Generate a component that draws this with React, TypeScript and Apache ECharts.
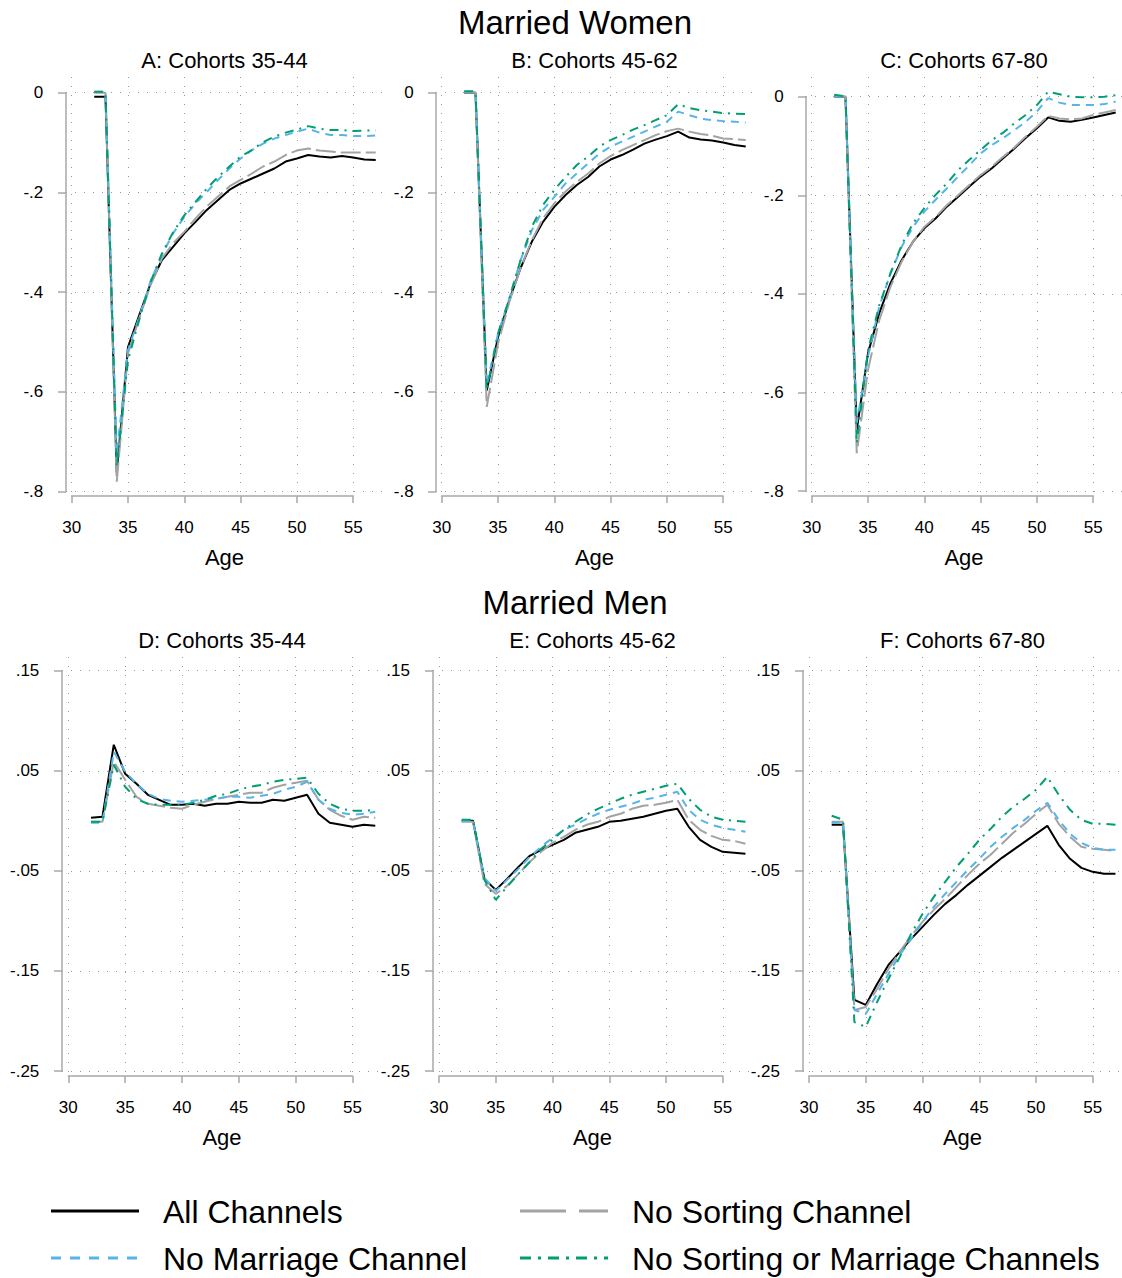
import React, { useEffect, useRef } from "react";
import * as echarts from "echarts";

const FONT = "'Liberation Sans', Arial, Helvetica, sans-serif";

// Age grid shared by all panels
const ages = [32, 33, 34, 35, 36, 37, 38, 39, 40, 41, 42, 43, 44, 45, 46, 47, 48, 49, 50, 51, 52, 53, 54, 55, 56, 57];

// Married women, cohorts 35-44
const womenA_all = [-0.008, -0.008, -0.762, -0.51, -0.446, -0.383, -0.336, -0.309, -0.282, -0.259, -0.235, -0.215, -0.195, -0.182, -0.172, -0.162, -0.152, -0.138, -0.132, -0.125, -0.128, -0.13, -0.127, -0.13, -0.134, -0.135];
const womenA_noSorting = [0, 0, -0.78, -0.523, -0.452, -0.386, -0.333, -0.302, -0.279, -0.252, -0.228, -0.208, -0.188, -0.175, -0.162, -0.148, -0.138, -0.125, -0.116, -0.112, -0.116, -0.118, -0.12, -0.12, -0.12, -0.12];
const womenA_noMarriage = [0.002, 0.002, -0.725, -0.516, -0.45, -0.378, -0.326, -0.282, -0.249, -0.222, -0.199, -0.175, -0.152, -0.132, -0.115, -0.102, -0.092, -0.085, -0.078, -0.072, -0.08, -0.085, -0.085, -0.087, -0.087, -0.086];
const womenA_noBoth = [0.002, 0.002, -0.75, -0.536, -0.455, -0.38, -0.323, -0.28, -0.246, -0.219, -0.192, -0.169, -0.148, -0.128, -0.115, -0.099, -0.088, -0.08, -0.074, -0.067, -0.072, -0.075, -0.075, -0.077, -0.076, -0.076];

// Married women, cohorts 45-62
const womenB_all = [0, 0, -0.597, -0.49, -0.416, -0.352, -0.299, -0.259, -0.229, -0.205, -0.185, -0.169, -0.148, -0.134, -0.125, -0.114, -0.102, -0.094, -0.087, -0.078, -0.09, -0.094, -0.096, -0.1, -0.105, -0.108];
const womenB_noSorting = [0, 0, -0.63, -0.503, -0.42, -0.352, -0.296, -0.252, -0.222, -0.198, -0.179, -0.162, -0.142, -0.127, -0.115, -0.105, -0.095, -0.085, -0.077, -0.072, -0.078, -0.083, -0.086, -0.092, -0.093, -0.095];
const womenB_noMarriage = [0.002, 0.002, -0.587, -0.483, -0.413, -0.336, -0.276, -0.235, -0.209, -0.182, -0.162, -0.142, -0.122, -0.108, -0.098, -0.088, -0.078, -0.068, -0.058, -0.038, -0.045, -0.052, -0.055, -0.057, -0.058, -0.06];
const womenB_noBoth = [0.003, 0.003, -0.597, -0.483, -0.413, -0.336, -0.269, -0.225, -0.195, -0.169, -0.145, -0.128, -0.108, -0.095, -0.085, -0.074, -0.065, -0.055, -0.045, -0.023, -0.031, -0.035, -0.038, -0.041, -0.042, -0.043];

// Married women, cohorts 67-80
const womenC_all = [0, 0, -0.676, -0.52, -0.439, -0.378, -0.331, -0.294, -0.267, -0.247, -0.223, -0.203, -0.182, -0.162, -0.145, -0.125, -0.105, -0.084, -0.064, -0.042, -0.049, -0.051, -0.047, -0.042, -0.037, -0.032];
const womenC_noSorting = [0, 0, -0.723, -0.554, -0.453, -0.385, -0.334, -0.294, -0.264, -0.244, -0.22, -0.2, -0.179, -0.159, -0.142, -0.122, -0.103, -0.081, -0.061, -0.039, -0.044, -0.046, -0.044, -0.037, -0.032, -0.027];
const womenC_noMarriage = [0.001, 0, -0.662, -0.527, -0.426, -0.358, -0.304, -0.264, -0.233, -0.209, -0.186, -0.162, -0.139, -0.115, -0.098, -0.084, -0.068, -0.051, -0.03, -0.003, -0.012, -0.017, -0.017, -0.017, -0.015, -0.01];
const womenC_noBoth = [0.004, 0.001, -0.703, -0.514, -0.423, -0.358, -0.3, -0.257, -0.226, -0.199, -0.176, -0.149, -0.128, -0.108, -0.088, -0.073, -0.054, -0.037, -0.017, 0.01, 0.005, 0, -0.001, -0.001, 0, 0.003];

// Married men, cohorts 35-44
const menD_all = [0.003, 0.004, 0.076, 0.047, 0.037, 0.026, 0.021, 0.016, 0.016, 0.017, 0.015, 0.017, 0.017, 0.019, 0.018, 0.018, 0.021, 0.02, 0.023, 0.026, 0.007, -0.002, -0.004, -0.006, -0.004, -0.005];
const menD_noSorting = [-0.001, -0.001, 0.059, 0.041, 0.024, 0.017, 0.015, 0.013, 0.012, 0.016, 0.019, 0.022, 0.024, 0.026, 0.028, 0.028, 0.033, 0.036, 0.038, 0.04, 0.021, 0.011, 0.005, 0.001, 0.004, 0.003];
const menD_noMarriage = [-0.002, -0.002, 0.069, 0.049, 0.037, 0.027, 0.022, 0.02, 0.019, 0.02, 0.021, 0.022, 0.024, 0.024, 0.023, 0.025, 0.027, 0.031, 0.034, 0.039, 0.021, 0.012, 0.008, 0.006, 0.007, 0.009];
const menD_noBoth = [-0.001, -0.001, 0.056, 0.034, 0.022, 0.017, 0.016, 0.016, 0.016, 0.018, 0.021, 0.025, 0.027, 0.031, 0.034, 0.036, 0.039, 0.041, 0.042, 0.043, 0.027, 0.017, 0.012, 0.01, 0.01, 0.011];

// Married men, cohorts 45-62
const menE_all = [0, 0, -0.058, -0.069, -0.058, -0.046, -0.035, -0.029, -0.024, -0.019, -0.012, -0.009, -0.006, -0.001, 0, 0.002, 0.004, 0.007, 0.01, 0.012, -0.006, -0.019, -0.026, -0.031, -0.032, -0.033];
const menE_noSorting = [-0.001, -0.001, -0.063, -0.073, -0.065, -0.053, -0.041, -0.031, -0.022, -0.016, -0.009, -0.004, -0.001, 0.004, 0.007, 0.012, 0.015, 0.016, 0.018, 0.021, 0.001, -0.009, -0.015, -0.019, -0.02, -0.023];
const menE_noMarriage = [0, 0, -0.057, -0.07, -0.059, -0.048, -0.036, -0.026, -0.017, -0.009, -0.004, 0.002, 0.007, 0.011, 0.014, 0.017, 0.021, 0.023, 0.026, 0.029, 0.011, 0.001, -0.004, -0.007, -0.009, -0.011];
const menE_noBoth = [0.001, 0.001, -0.059, -0.079, -0.066, -0.053, -0.041, -0.028, -0.019, -0.009, -0.001, 0.006, 0.012, 0.017, 0.022, 0.026, 0.029, 0.032, 0.035, 0.037, 0.022, 0.011, 0.004, 0.001, 0, -0.001];

// Married men, cohorts 67-80
const menF_all = [-0.004, -0.004, -0.179, -0.184, -0.163, -0.144, -0.131, -0.118, -0.106, -0.094, -0.083, -0.074, -0.064, -0.055, -0.046, -0.037, -0.029, -0.021, -0.013, -0.005, -0.024, -0.038, -0.047, -0.051, -0.053, -0.053];
const menF_noSorting = [-0.001, -0.001, -0.189, -0.186, -0.168, -0.148, -0.131, -0.115, -0.101, -0.089, -0.078, -0.066, -0.054, -0.043, -0.034, -0.023, -0.012, -0.003, 0.007, 0.016, -0.003, -0.016, -0.026, -0.028, -0.029, -0.03];
const menF_noMarriage = [-0.002, -0.002, -0.189, -0.193, -0.173, -0.153, -0.134, -0.118, -0.101, -0.086, -0.073, -0.061, -0.049, -0.038, -0.026, -0.016, -0.007, 0.001, 0.01, 0.018, 0.001, -0.013, -0.022, -0.027, -0.029, -0.029];
const menF_noBoth = [0.005, 0.001, -0.201, -0.206, -0.181, -0.158, -0.136, -0.113, -0.093, -0.076, -0.061, -0.046, -0.033, -0.019, -0.008, 0.004, 0.014, 0.022, 0.031, 0.044, 0.026, 0.011, 0.001, -0.003, -0.003, -0.004];

const seriesNames = ["All Channels", "No Sorting Channel", "No Marriage Channel", "No Sorting or Marriage Channels"];

// Line styles of the four scenarios
const styles = [
  { color: "#000000", type: "solid" as any, width: 2 },
  { color: "#a3a3a3", type: [20, 5], width: 2 },
  { color: "#56b4e9", type: [8, 6], width: 2 },
  { color: "#009e73", type: [9, 6, 2, 6], width: 2 },
];

const womenTicks = { min: -0.8, max: 0, step: 0.2 };
const menTicks = { min: -0.25, max: 0.15, step: 0.1 };

type Panel = {
  title: string;
  data: number[][];
  ticks: { min: number; max: number; step: number };
  axisX: number; // x of the y-axis line
  x30: number; // pixel of age 30
  pxYear: number;
  yTopPx: number; // pixel of top tick
  yBotPx: number; // pixel of bottom tick
  regionLeft: number;
  regionRight: number;
  regionTop: number;
  regionBottom: number;
  xAxisY: number;
};

const panels: Panel[] = [
  { title: "A: Cohorts 35-44", data: [womenA_all, womenA_noSorting, womenA_noMarriage, womenA_noBoth], ticks: womenTicks,
    axisX: 57.3, x30: 71.7, pxYear: 11.26, yTopPx: 92.7, yBotPx: 491.7, regionLeft: 66, regionRight: 383, regionTop: 77, regionBottom: 496, xAxisY: 506 },
  { title: "B: Cohorts 45-62", data: [womenB_all, womenB_noSorting, womenB_noMarriage, womenB_noBoth], ticks: womenTicks,
    axisX: 427.7, x30: 441.7, pxYear: 11.26, yTopPx: 92.7, yBotPx: 491.7, regionLeft: 436, regionRight: 753, regionTop: 77, regionBottom: 496, xAxisY: 506 },
  { title: "C: Cohorts 67-80", data: [womenC_all, womenC_noSorting, womenC_noMarriage, womenC_noBoth], ticks: womenTicks,
    axisX: 797.7, x30: 811.7, pxYear: 11.26, yTopPx: 96.7, yBotPx: 491.2, regionLeft: 806, regionRight: 1122, regionTop: 77, regionBottom: 496, xAxisY: 506 },
  { title: "D: Cohorts 35-44", data: [menD_all, menD_noSorting, menD_noMarriage, menD_noBoth], ticks: menTicks,
    axisX: 53.3, x30: 68.3, pxYear: 11.37, yTopPx: 670.7, yBotPx: 1071, regionLeft: 62, regionRight: 382, regionTop: 657, regionBottom: 1076, xAxisY: 1086 },
  { title: "E: Cohorts 45-62", data: [menE_all, menE_noSorting, menE_noMarriage, menE_noBoth], ticks: menTicks,
    axisX: 424, x30: 439, pxYear: 11.35, yTopPx: 670.7, yBotPx: 1071, regionLeft: 433, regionRight: 752, regionTop: 657, regionBottom: 1076, xAxisY: 1086 },
  { title: "F: Cohorts 67-80", data: [menF_all, menF_noSorting, menF_noMarriage, menF_noBoth], ticks: menTicks,
    axisX: 794, x30: 809, pxYear: 11.35, yTopPx: 670.7, yBotPx: 1071, regionLeft: 803, regionRight: 1122, regionTop: 657, regionBottom: 1076, xAxisY: 1086 },
];

const AXIS_COLOR = "#a8a8a8";
const GRID_DOT = { color: "#9a9a9a", width: 1, type: [1, 8] as any };

function fmtTick(v: number): string {
  const r = Number(v.toFixed(3));
  if (r === 0) return "0";
  return String(r).replace("0.", ".");
}

function buildOption() {
  const grid: any[] = [];
  const xAxis: any[] = [];
  const yAxis: any[] = [];
  const series: any[] = [];
  const graphic: any[] = [];

  panels.forEach((p) => {
    const base = grid.length;
    const pxUnit = (p.yBotPx - p.yTopPx) / (p.ticks.max - p.ticks.min);
    const width = p.regionRight - p.regionLeft;
    const height = p.regionBottom - p.regionTop;

    // data grid covering the whole plot region
    grid.push({ left: p.regionLeft, top: p.regionTop, width, height, containLabel: false });
    xAxis.push({
      gridIndex: base, type: "value",
      min: 30 - (p.x30 - p.regionLeft) / p.pxYear,
      max: 30 + (p.regionRight - p.x30) / p.pxYear,
      show: false,
    });
    yAxis.push({
      gridIndex: base, type: "value",
      min: p.ticks.min - (p.regionBottom - p.yBotPx) / pxUnit,
      max: p.ticks.max + (p.yTopPx - p.regionTop) / pxUnit,
      show: false,
    });

    // y axis with horizontal gridlines
    grid.push({ left: p.regionLeft, top: p.yTopPx, width, height: p.yBotPx - p.yTopPx, containLabel: false });
    xAxis.push({ gridIndex: base + 1, type: "value", min: 0, max: 1, show: false });
    yAxis.push({
      gridIndex: base + 1, type: "value", min: p.ticks.min, max: p.ticks.max, interval: p.ticks.step,
      position: "left", offset: p.regionLeft - p.axisX,
      axisLine: { show: true, lineStyle: { color: AXIS_COLOR, width: 1.5 } },
      axisTick: { show: true, length: 8, lineStyle: { color: AXIS_COLOR, width: 1.5 } },
      axisLabel: { show: true, margin: 14, color: "#000", fontSize: 17, fontFamily: FONT, formatter: fmtTick },
      splitLine: { show: true, lineStyle: GRID_DOT },
    });

    // x axis (ages 30-55) with vertical gridlines
    grid.push({ left: p.x30, top: p.regionTop, width: 25 * p.pxYear, height, containLabel: false });
    xAxis.push({
      gridIndex: base + 2, type: "value", min: 30, max: 55, interval: 5,
      position: "bottom", offset: p.xAxisY - p.regionBottom,
      axisLine: { show: true, lineStyle: { color: AXIS_COLOR, width: 1.5 } },
      axisTick: { show: true, length: 7, lineStyle: { color: AXIS_COLOR, width: 1.5 } },
      axisLabel: { show: true, margin: 13, color: "#000", fontSize: 17, fontFamily: FONT },
      splitLine: { show: true, lineStyle: GRID_DOT },
    });
    yAxis.push({ gridIndex: base + 2, type: "value", min: 0, max: 1, show: false });

    p.data.forEach((vals, k) => {
      series.push({
        type: "line",
        name: seriesNames[k],
        xAxisIndex: base,
        yAxisIndex: base,
        data: ages.map((a, j) => [a, vals[j]]),
        symbol: "none",
        lineStyle: styles[k],
        z: 3 + k,
        clip: false,
      });
    });

    const cx = (p.regionLeft + p.regionRight) / 2;
    graphic.push({
      type: "text", x: cx, y: p.regionTop - 17,
      style: { text: p.title, fontSize: 22, fontFamily: FONT, fill: "#000", align: "center", verticalAlign: "middle" },
    });
    graphic.push({
      type: "text", x: cx, y: p.xAxisY + 51,
      style: { text: "Age", fontSize: 22, fontFamily: FONT, fill: "#000", align: "center", verticalAlign: "middle" },
    });
  });

  graphic.push({
    type: "text", x: 575, y: 22,
    style: { text: "Married Women", fontSize: 33, fontFamily: FONT, fill: "#000", align: "center", verticalAlign: "middle" },
  });
  graphic.push({
    type: "text", x: 575, y: 602,
    style: { text: "Married Men", fontSize: 33, fontFamily: FONT, fill: "#000", align: "center", verticalAlign: "middle" },
  });

  // legend keys
  const legendItems = [
    { name: seriesNames[0], x: 51, y: 1211, dash: null as any, color: styles[0].color },
    { name: seriesNames[1], x: 520, y: 1211, dash: [46, 13], color: styles[1].color },
    { name: seriesNames[2], x: 51, y: 1258, dash: [10, 9], color: styles[2].color },
    { name: seriesNames[3], x: 520, y: 1258, dash: [11, 7, 3, 7], color: styles[3].color },
  ];
  legendItems.forEach((it) => {
    graphic.push({
      type: "line",
      shape: { x1: it.x, y1: it.y, x2: it.x + 88, y2: it.y },
      style: { stroke: it.color, lineWidth: 3, lineDash: it.dash || undefined },
    });
    graphic.push({
      type: "text", x: it.x + 112, y: it.y + 1,
      style: { text: it.name, fontSize: 32, fontFamily: FONT, fill: "#000", align: "left", verticalAlign: "middle" },
    });
  });

  return {
    animation: false,
    backgroundColor: "#ffffff",
    grid, xAxis, yAxis, series, graphic,
  };
}

export default function App() {
  const ref = useRef<HTMLDivElement>(null);
  useEffect(() => {
    document.body.style.margin = "0";
    if (!ref.current) return;
    const chart = echarts.init(ref.current, undefined, { renderer: "svg" });
    chart.setOption(buildOption() as any);
    return () => chart.dispose();
  }, []);
  return <div ref={ref} style={{ width: 1122, height: 1278, background: "#fff" }} />;
}
